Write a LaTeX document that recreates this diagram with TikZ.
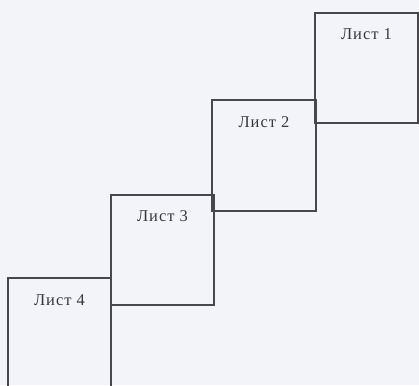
\documentclass[tikz,border=0pt]{standalone}
\usepackage{fontspec}
\newfontfamily\sheetfont[LetterSpace=6]{Liberation Serif}
\definecolor{paper}{RGB}{243,244,249}
\definecolor{edge}{RGB}{72,72,74}
\definecolor{ink}{RGB}{55,55,58}
\tikzset{
  sheet/.style={draw=edge, line width=2pt, rectangle, minimum width=103.5pt, minimum height=110.5pt, inner sep=0pt},
  sheetlabel/.style={text=ink, font=\sheetfont\fontsize{16.5}{18}\selectfont, inner sep=0pt}
}

\begin{document}
\begin{tikzpicture}[x=1pt, y=-1pt]
			%%%%% START %%%%%
			
			\fill[paper] (0, 0) rectangle (419, 385);
			\useasboundingbox (0, 0) rectangle (419, 385);
			
			\node[sheet] (s1) at (366.5, 68) {};
			\node[sheet] (s2) at (264, 155.5) {};
			\node[sheet] (s3) at (162.5, 250) {};
			\node[sheet] (s4) at (59.5, 333) {};
			
			\node[sheetlabel] (l1) at ([yshift=-22.5pt]s1.north) {Лист 1};
			\node[sheetlabel] (l2) at ([yshift=-22.5pt]s2.north) {Лист 2};
			\node[sheetlabel] (l3) at ([yshift=-22.5pt]s3.north) {Лист 3};
			\node[sheetlabel] (l4) at ([yshift=-23.5pt]s4.north) {Лист 4};
			
			%%%%% END %%%%%
\end{tikzpicture}
\end{document}
